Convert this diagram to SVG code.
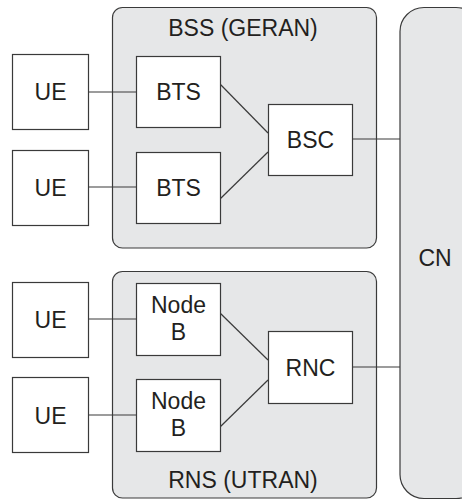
<svg xmlns="http://www.w3.org/2000/svg" width="462" height="500" viewBox="0 0 462 500">
<style>
.grp{fill:#e6e7e8;stroke:#3a3a3a;stroke-width:1.2}
.box{fill:#ffffff;stroke:#3a3a3a;stroke-width:1.2}
.ln{stroke:#3a3a3a;stroke-width:1.2;fill:none}
text{font-family:"Liberation Sans",Arial,sans-serif;font-size:23px;fill:#231f20;text-anchor:middle}
</style>
<rect width="462" height="500" fill="#ffffff"/>
<g id="CN"><rect class="grp" x="400" y="7.5" width="80" height="491" rx="24"/><text x="435" y="266">CN</text></g>
<g id="BSS"><rect class="grp" x="112.5" y="7.5" width="264" height="240.5" rx="10"/><text x="243" y="35.5">BSS (GERAN)</text></g>
<g id="RNS"><rect class="grp" x="112.5" y="271.5" width="264" height="226.5" rx="10"/><text x="243" y="488">RNS (UTRAN)</text></g>
<g id="connectors">
<line class="ln" x1="88" y1="92" x2="136" y2="92"/>
<line class="ln" x1="88" y1="187" x2="136" y2="187"/>
<line class="ln" x1="220" y1="84" x2="268" y2="133"/>
<line class="ln" x1="220" y1="199" x2="268" y2="152"/>
<line class="ln" x1="352" y1="139" x2="400" y2="139"/>
<line class="ln" x1="88" y1="319" x2="136" y2="319"/>
<line class="ln" x1="88" y1="415" x2="136" y2="415"/>
<line class="ln" x1="220" y1="313" x2="268" y2="360"/>
<line class="ln" x1="220" y1="427" x2="268" y2="380"/>
<line class="ln" x1="352" y1="367" x2="400" y2="367"/>
</g>
<g id="UE1"><rect class="box" x="12.5" y="54.5" width="76" height="75"/><text x="50.5" y="100">UE</text></g>
<g id="UE2"><rect class="box" x="12.5" y="150.5" width="76" height="75"/><text x="50.5" y="196">UE</text></g>
<g id="UE3"><rect class="box" x="12.5" y="282.5" width="76" height="75"/><text x="50.5" y="328">UE</text></g>
<g id="UE4"><rect class="box" x="12.5" y="377.5" width="76" height="75"/><text x="50.5" y="423.5">UE</text></g>
<g id="BTS1"><rect class="box" x="136.5" y="56.5" width="84" height="71"/><text x="178.5" y="100">BTS</text></g>
<g id="BTS2"><rect class="box" x="136.5" y="152.5" width="84" height="71"/><text x="178.5" y="196">BTS</text></g>
<g id="BSC"><rect class="box" x="268.5" y="104.5" width="84" height="71"/><text x="310.5" y="148">BSC</text></g>
<g id="NodeB1"><rect class="box" x="136.5" y="283.5" width="84" height="72"/><text x="178.5" y="313">Node</text><text x="178.5" y="340">B</text></g>
<g id="NodeB2"><rect class="box" x="136.5" y="379.5" width="84" height="72"/><text x="178.5" y="409">Node</text><text x="178.5" y="436">B</text></g>
<g id="RNC"><rect class="box" x="268.5" y="331.5" width="84" height="72"/><text x="310.5" y="376">RNC</text></g>
</svg>
